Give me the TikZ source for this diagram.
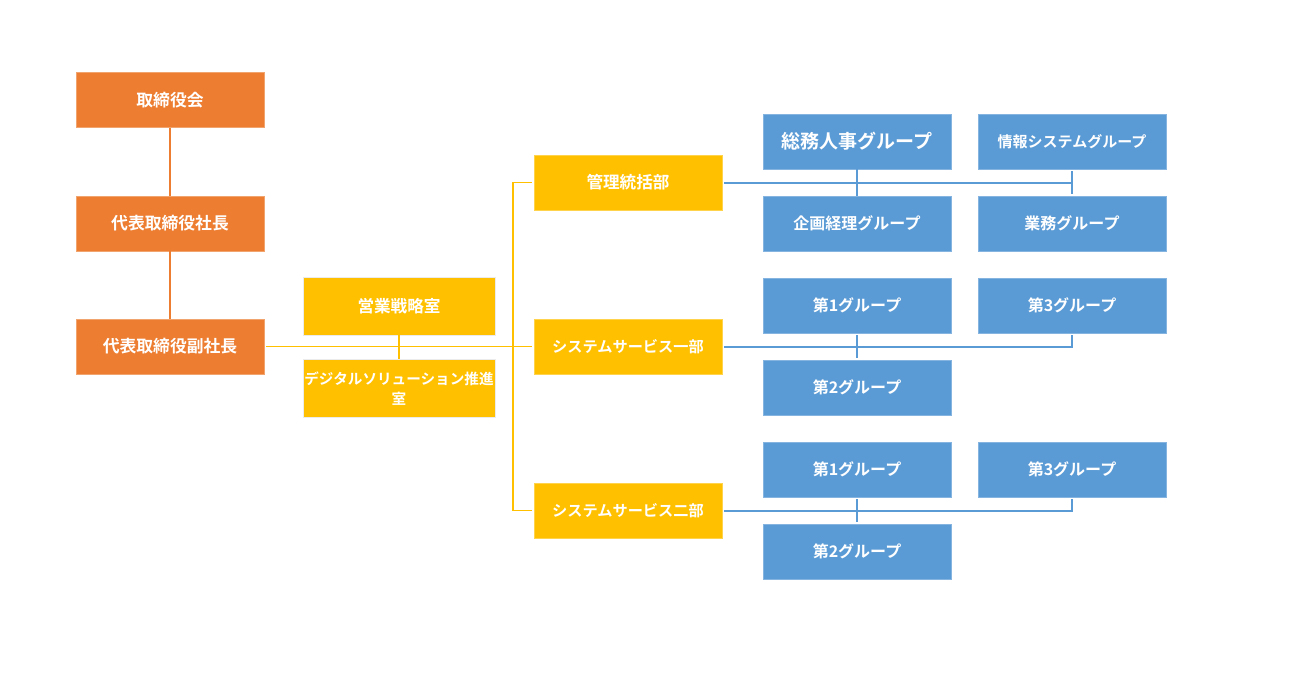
\documentclass[tikz,border=0pt]{standalone}
\usepackage{fontspec}
\setmainfont{Noto Sans CJK JP}[BoldFont={Noto Sans CJK JP Bold}]
\usepackage{xcolor}
\definecolor{execorange}{RGB}{237,125,49}
\definecolor{deptyellow}{RGB}{255,192,0}
\definecolor{groupblue}{RGB}{91,155,213}
\usepackage{tikz}
\usetikzlibrary{calc}
\newcommand{\widthbox}{188pt}
\newcommand{\heightbox}{55pt}
\newcommand{\fs}[1]{\bfseries\fontsize{#1}{#1}\selectfont}
\tikzset{
    common/.style={rectangle, minimum width=\widthbox, minimum height=\heightbox, inner sep=0pt, text=white, align=center, font=\fs{16}},
    exec/.style={common, fill=execorange, draw=execorange!70!white, font=\fs{16.8}},
    office/.style={common, fill=deptyellow, draw=black!8, minimum width=192pt, minimum height=58pt, font=\fs{16.6}},
    dept/.style={common, fill=deptyellow, draw=deptyellow!70!white, font=\fs{15.2}},
    group/.style={common, fill=groupblue, draw=groupblue!75!white},
    link-exec/.style={draw=execorange, line width=2pt},
    link-dept/.style={draw=deptyellow, line width=1.6pt},
    link-group/.style={draw=groupblue, line width=2pt, shorten <=2pt}
}
\begin{document}
\begin{tikzpicture}[x=1pt, y=-1pt]
        \useasboundingbox (0,0) rectangle (1297,673);

        % executives
        \path
            (170,100) node[exec] (board) {取締役会}
            ++(0,123.5) node[exec] (pres) {代表取締役社長}
            ++(0,123) node[exec] (vp) {代表取締役副社長};

        % offices
        \path
            (399,306) node[office] (sales) {営業戦略室}
            ++(0,82) node[office, font=\fs{14.6}, text depth=0pt] (digital) {デジタルソリューション推進\\[5pt]室};

        % departments
        \path
            (628,182.5) node[dept, font=\fs{16.6}] (admin) {管理統括部}
            ++(0,164) node[dept] (sys1) {システムサービス一部}
            ++(0,164) node[dept] (sys2) {システムサービス二部};

        % groups
        \path
            (857,141.5) node[group, font=\fs{19}] (admin-g1) {総務人事グループ}
            ++(215,0) node[group, font=\fs{15}] (admin-g2) {情報システムグループ}
            ++(-215,82) node[group] (admin-g3) {企画経理グループ}
            ++(215,0) node[group] (admin-g4) {業務グループ};
        \path
            (857,305.5) node[group] (sys1-g1) {第1グループ}
            ++(215,0) node[group] (sys1-g3) {第3グループ}
            ++(-215,82) node[group] (sys1-g2) {第2グループ};
        \path
            (857,469.5) node[group] (sys2-g1) {第1グループ}
            ++(215,0) node[group] (sys2-g3) {第3グループ}
            ++(-215,82) node[group] (sys2-g2) {第2グループ};

        \coordinate (bus) at (513,0);

        \draw[link-exec]
          (board) -- (pres)
          (pres) -- (vp);

        \draw[link-dept, shorten <=2pt, shorten >=2pt]
          (vp) -- (sys1);
        \draw[link-dept]
          (sales) -- (digital);
        \draw[link-dept, shorten <=2pt, shorten >=2pt]
          (admin.west) -- (admin.west -| bus) -- (sys2.west -| bus) -- (sys2.west);

        \draw[link-group] (admin) -- (admin -| admin-g2);
        \draw[link-group, shorten >=2pt]
          (admin-g1) -- (admin-g3)
          (admin-g2) -- (admin-g4);

        \draw[link-group, shorten >=2pt] (sys1) -- (sys1 -| sys1-g3) -- (sys1-g3);
        \draw[link-group, shorten >=2pt] (sys1-g1) -- (sys1-g2);

        \draw[link-group, shorten >=2pt] (sys2) -- (sys2 -| sys2-g3) -- (sys2-g3);
        \draw[link-group, shorten >=2pt] (sys2-g1) -- (sys2-g2);
\end{tikzpicture}
\end{document}
